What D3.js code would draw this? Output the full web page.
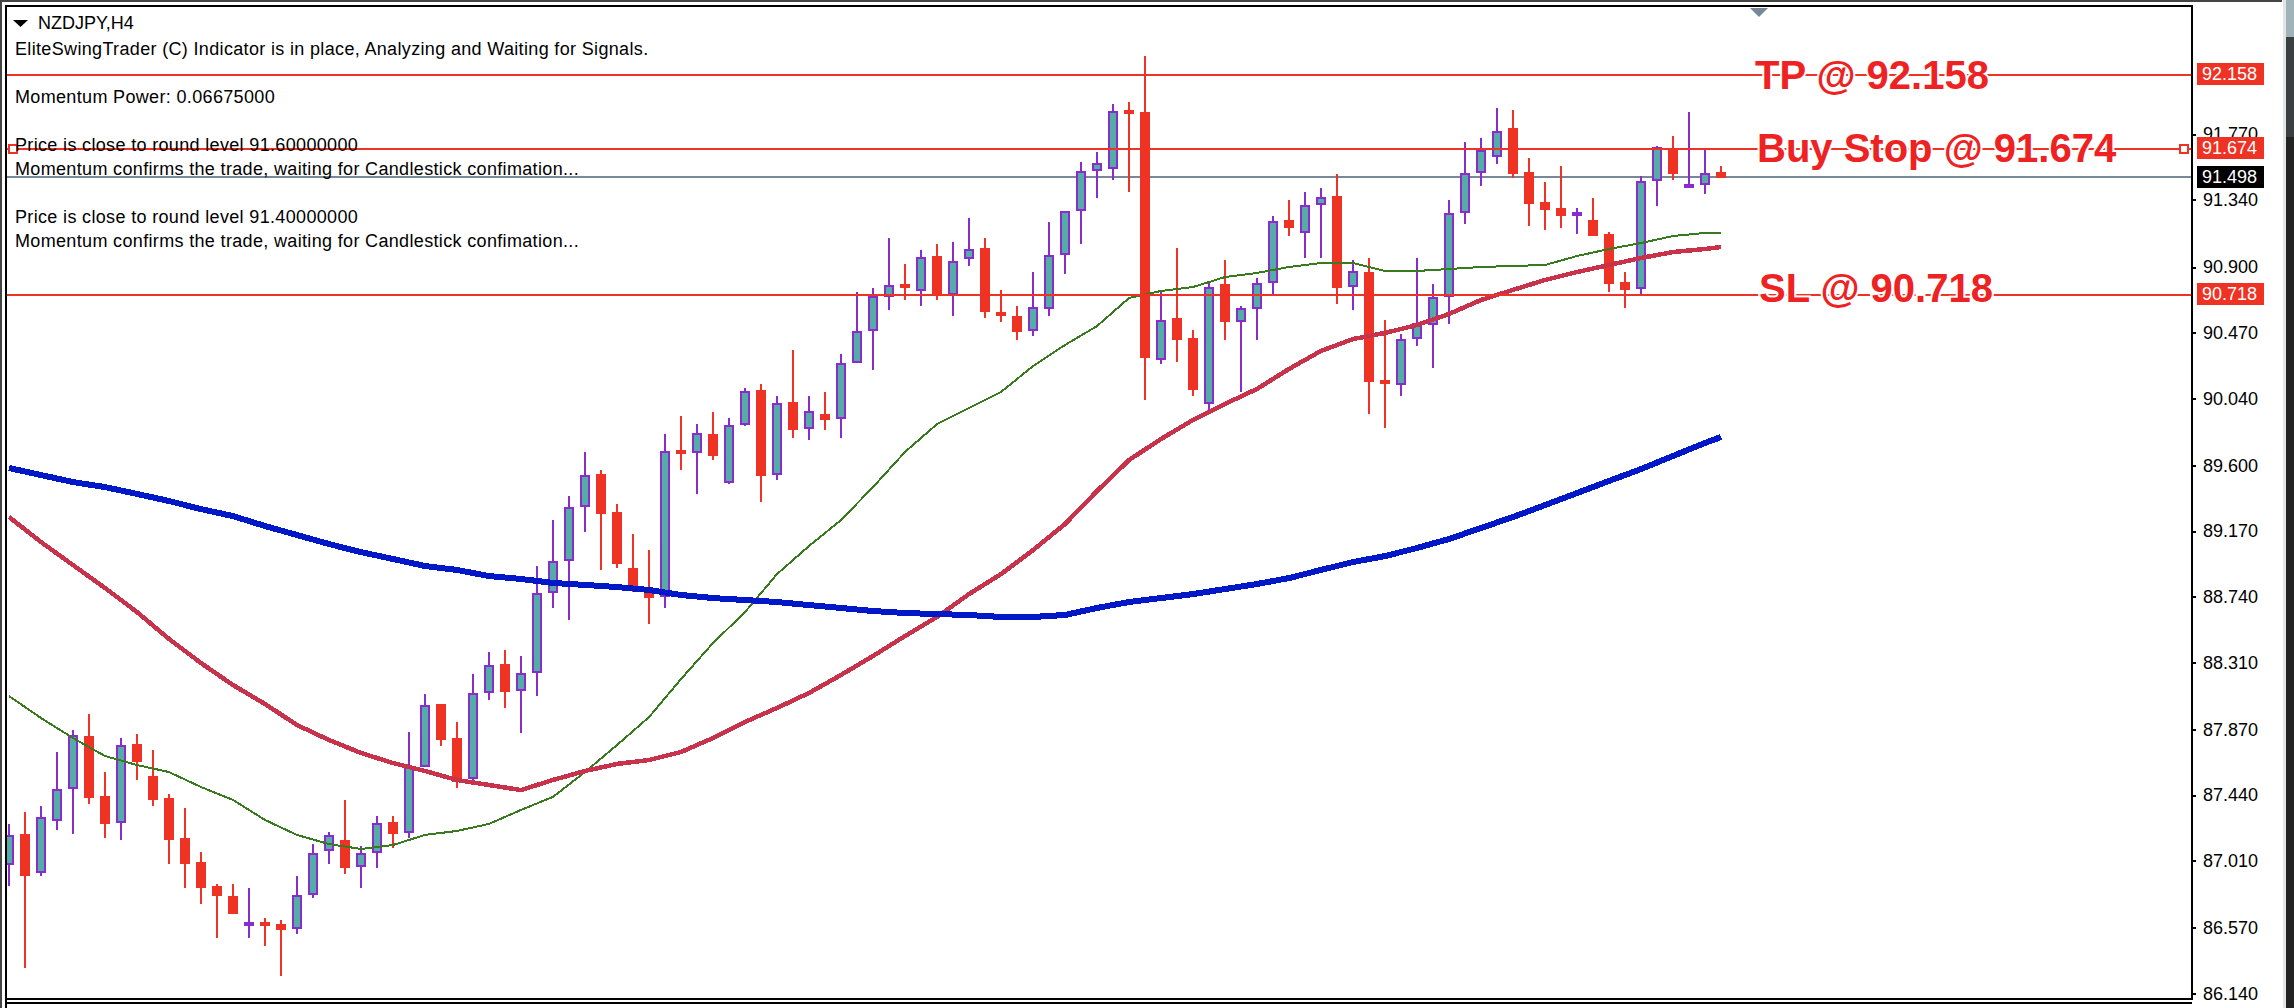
<!DOCTYPE html>
<html>
<head>
<meta charset="utf-8">
<script src="https://cdn.jsdelivr.net/npm/d3@7"></script>
<style>
html, body { margin: 0; padding: 0; background: #fff; overflow: hidden; }
svg { display: block; }
text { font-family: "Liberation Sans", Arial, sans-serif; }
</style>
</head>
<body>
<script>
var opens = [86.982,87.185,86.930,87.270,87.480,87.827,87.434,87.257,87.775,87.565,87.421,87.159,87.002,86.845,86.779,86.583,86.609,86.596,86.563,86.786,87.074,87.146,86.969,87.061,87.264,87.192,87.624,88.037,87.814,87.546,88.109,88.299,88.122,88.240,88.764,88.974,89.327,89.544,89.295,88.928,88.784,88.738,89.701,89.681,89.806,89.485,89.865,90.094,89.537,90.016,89.838,89.937,89.904,90.271,90.481,90.703,90.788,90.743,90.972,90.717,90.953,91.025,90.605,90.579,90.481,90.625,90.979,91.267,91.529,91.542,91.929,91.916,90.291,90.566,90.435,90.003,90.788,90.540,90.625,90.795,91.208,91.123,91.306,91.365,90.769,90.867,90.160,90.127,90.428,90.520,90.703,91.254,91.516,91.621,91.811,91.522,91.326,91.287,91.234,91.208,91.116,90.802,90.756,91.463,91.673,91.417,91.437,91.522]
var highs = [87.251,87.329,87.369,87.722,87.866,87.971,87.591,87.814,87.840,87.735,87.447,87.356,87.067,86.858,86.858,86.831,86.635,86.622,86.910,87.119,87.198,87.408,87.106,87.303,87.303,87.853,88.102,88.037,87.919,88.234,88.377,88.390,88.351,88.941,89.242,89.400,89.688,89.570,89.347,89.150,89.045,89.806,89.924,89.871,89.950,89.911,90.107,90.133,90.055,90.356,90.055,90.081,90.330,90.736,90.762,91.090,90.920,91.011,91.051,91.064,91.221,91.090,90.750,90.644,90.867,91.195,91.267,91.588,91.653,91.968,91.981,92.283,90.736,91.025,90.487,90.802,90.946,90.644,90.828,91.234,91.339,91.391,91.417,91.509,90.946,90.959,90.553,90.461,90.959,90.788,91.339,91.719,91.745,91.942,91.929,91.614,91.457,91.562,91.287,91.352,91.129,90.867,91.496,91.693,91.758,91.916,91.667,91.562]
var lows = [86.845,86.307,86.910,87.211,87.185,87.382,87.159,87.146,87.539,87.369,86.988,86.831,86.727,86.504,86.661,86.504,86.452,86.255,86.530,86.766,86.988,86.923,86.831,86.962,87.093,87.159,87.624,87.762,87.486,87.539,88.063,88.011,87.847,88.089,88.666,88.587,89.163,88.915,88.928,88.771,88.561,88.666,89.570,89.413,89.635,89.478,89.858,89.360,89.504,89.780,89.766,89.832,89.780,90.271,90.225,90.618,90.684,90.644,90.684,90.579,90.907,90.566,90.540,90.422,90.448,90.579,90.854,91.051,91.352,91.470,91.391,90.029,90.264,90.278,90.055,89.963,90.422,90.081,90.422,90.723,91.103,90.959,90.959,90.657,90.618,89.937,89.845,90.055,90.382,90.238,90.526,91.182,91.431,91.575,91.483,91.169,91.142,91.156,91.116,91.103,90.736,90.631,90.723,91.300,91.470,91.417,91.378,91.483]
var closes = [87.179,86.910,87.297,87.480,87.834,87.421,87.251,87.768,87.657,87.408,87.146,86.988,86.831,86.779,86.661,86.609,86.583,86.556,86.786,87.061,87.179,86.962,87.061,87.257,87.185,87.624,88.030,87.801,87.526,88.109,88.292,88.116,88.240,88.764,88.974,89.327,89.537,89.282,88.954,88.784,88.731,89.695,89.675,89.812,89.661,89.865,90.087,89.531,90.009,89.832,89.956,89.898,90.271,90.481,90.710,90.782,90.762,90.966,90.717,90.939,91.018,90.605,90.579,90.474,90.638,90.979,91.267,91.529,91.581,91.922,91.903,90.304,90.553,90.422,90.094,90.769,90.540,90.631,90.795,91.201,91.156,91.306,91.358,90.762,90.874,90.147,90.133,90.428,90.533,90.703,91.254,91.516,91.667,91.791,91.509,91.313,91.274,91.234,91.260,91.103,90.788,90.750,91.463,91.686,91.509,91.444,91.516,91.483]

// moving averages, read every second bar plus the last one
var maBars = d3.range(0, 107, 2).concat([107])
var maGreen = [88.089,87.945,87.814,87.696,87.637,87.591,87.493,87.408,87.277,87.179,87.119,87.087,87.113,87.179,87.205,87.251,87.343,87.428,87.591,87.768,87.951,88.200,88.436,88.639,88.888,89.072,89.242,89.458,89.688,89.871,89.976,90.081,90.251,90.389,90.513,90.697,90.743,90.769,90.834,90.861,90.900,90.926,90.926,90.874,90.874,90.887,90.900,90.907,90.913,90.972,91.018,91.057,91.103,91.123,91.123]
var maRed = [89.262,89.098,88.947,88.797,88.639,88.463,88.305,88.161,88.037,87.899,87.801,87.716,87.650,87.598,87.539,87.506,87.473,87.539,87.598,87.644,87.670,87.722,87.814,87.919,88.011,88.109,88.227,88.351,88.482,88.607,88.757,88.888,89.045,89.216,89.432,89.635,89.773,89.898,90.003,90.101,90.232,90.350,90.428,90.468,90.520,90.592,90.684,90.750,90.815,90.867,90.913,90.959,90.998,91.018,91.031]
var maBlue = [89.583,89.537,89.491,89.458,89.413,89.367,89.314,89.268,89.203,89.144,89.085,89.032,88.987,88.941,88.915,88.875,88.856,88.830,88.817,88.803,88.784,88.751,88.731,88.718,88.705,88.685,88.666,88.646,88.633,88.626,88.620,88.607,88.607,88.620,88.666,88.705,88.731,88.757,88.790,88.823,88.862,88.915,88.967,89.006,89.059,89.118,89.190,89.262,89.340,89.419,89.498,89.576,89.662,89.747,89.786]

var tickValues = [86.14,86.57,87.01,87.44,87.87,88.31,88.74,89.17,89.60,90.04,90.47,90.90,91.34,91.77]
var levels = [92.158, 91.674, 90.718]
var levelNames = ["TP @ 92.158", "Buy Stop @ 91.674", "SL @ 90.718"]
var lastPrice = 91.498
var title = "NZDJPY,H4"
var comments = [
  "EliteSwingTrader (C) Indicator is in place, Analyzing and Waiting for Signals.",
  "",
  "Momentum Power: 0.06675000",
  "",
  "Price is close to round level 91.60000000",
  "Momentum confirms the trade, waiting for Candlestick confimation...",
  "",
  "Price is close to round level 91.40000000",
  "Momentum confirms the trade, waiting for Candlestick confimation..."
]

var red = "#ee3224", teal = "#54aca6", purple = "#8a2bce", slate = "#778899"
var width = 2294, height = 1008
var left = 7, top_ = 7, right = 2191, bottom = 999

var svg = d3.select("body").append("svg").attr("width", width).attr("height", height)

var x = d3.scaleLinear().domain([0, 107]).range([9, 1721])
var y = d3.scaleLinear().domain([92.158, 86.14]).range([75, 993.5])

svg.append("clipPath").attr("id", "plot").append("rect")
    .attr("x", left).attr("y", top_).attr("width", right - left).attr("height", bottom - top_)

// window chrome
svg.append("rect").attr("x", 0).attr("y", 0).attr("width", 2282).attr("height", 2).attr("fill", "#444")
svg.append("rect").attr("x", 0).attr("y", 0).attr("width", 2).attr("height", height).attr("fill", "#444")
svg.append("rect").attr("x", 2283).attr("y", 0).attr("width", 3).attr("height", height).attr("fill", "#e4e4e4")
svg.append("rect").attr("x", 2286).attr("y", 0).attr("width", 8).attr("height", height).attr("fill", "#222")
svg.append("rect").attr("x", 2286).attr("y", 0).attr("width", 8).attr("height", 37).attr("fill", "#9fb3b8")
svg.append("rect").attr("x", 2286).attr("y", 37).attr("width", 8).attr("height", 100).attr("fill", "#3a3f42")

var plot = svg.append("g").attr("clip-path", "url(#plot)").attr("shape-rendering", "crispEdges")

plot.append("line").attr("x1", left).attr("x2", right)
    .attr("y1", Math.round(y(lastPrice)) + 1).attr("y2", Math.round(y(lastPrice)) + 1)
    .attr("stroke", slate).attr("stroke-width", 2)

var candles = plot.selectAll("g.candle")
    .data(d3.range(opens.length))
    .enter().append("g")
    .attr("class", "candle")

candles.append("rect")
    .attr("x", function(i) { return x(i) - 1 })
    .attr("width", 2)
    .attr("y", function(i) { return y(highs[i]) })
    .attr("height", function(i) { return y(lows[i]) - y(highs[i]) })
    .attr("fill", function(i) { return closes[i] > opens[i] ? purple : red })

candles.append("rect")
    .attr("x", function(i) { return closes[i] > opens[i] ? x(i) - 4 : x(i) - 5 })
    .attr("width", function(i) { return closes[i] > opens[i] ? 8 : 10 })
    .attr("y", function(i) { return closes[i] > opens[i] ? y(closes[i]) + 1 : y(opens[i]) })
    .attr("height", function(i) {
      var h = Math.abs(y(closes[i]) - y(opens[i]))
      return closes[i] > opens[i] ? Math.max(h - 2, 1) : Math.max(h, 2)
    })
    .attr("fill", function(i) { return closes[i] > opens[i] ? teal : red })
    .attr("stroke", function(i) { return closes[i] > opens[i] ? purple : "none" })
    .attr("stroke-width", 2)

var maLine = function(values) {
  return d3.line()
      .x(function(d, k) { return x(maBars[k]) })
      .y(function(d) { return y(d) })(values)
}

plot.append("path").attr("d", maLine(maGreen)).attr("fill", "none").attr("stroke", "#3a7a1f").attr("stroke-width", 2)
plot.append("path").attr("d", maLine(maRed)).attr("fill", "none").attr("stroke", "#c8324a").attr("stroke-width", 4.5)
plot.append("path").attr("d", maLine(maBlue)).attr("fill", "none").attr("stroke", "#0018c8").attr("stroke-width", 6)

plot.selectAll("line.level")
    .data(levels)
    .enter().append("line")
    .attr("class", "level")
    .attr("x1", left).attr("x2", right)
    .attr("y1", function(d) { return Math.round(y(d)) })
    .attr("y2", function(d) { return Math.round(y(d)) })
    .attr("stroke", red).attr("stroke-width", 2)

// order anchors on the buy stop line
svg.selectAll("rect.anchor")
    .data([9, 2180])
    .enter().append("rect")
    .attr("class", "anchor")
    .attr("x", function(d) { return d }).attr("y", Math.round(y(levels[1])) - 4)
    .attr("width", 8).attr("height", 8)
    .attr("fill", "#fff").attr("stroke", red).attr("stroke-width", 1.5)
    .attr("shape-rendering", "crispEdges")

// frame
svg.append("rect").attr("x", left - 1).attr("y", top_ - 1).attr("width", right - left + 2).attr("height", bottom - top_ + 1)
    .attr("fill", "none").attr("stroke", "#000").attr("stroke-width", 2).attr("shape-rendering", "crispEdges")
svg.append("line").attr("x1", left - 1).attr("x2", right + 1).attr("y1", 1003).attr("y2", 1003)
    .attr("stroke", "#000").attr("stroke-width", 2).attr("shape-rendering", "crispEdges")
svg.append("line").attr("x1", left - 1).attr("x2", left - 1).attr("y1", 1000).attr("y2", height)
    .attr("stroke", "#000").attr("stroke-width", 2).attr("shape-rendering", "crispEdges")
svg.append("path").attr("d", "M1750,8L1768,8L1759,17Z").attr("fill", slate)

// price axis
var axis = d3.axisRight(y)
    .tickValues(tickValues)
    .tickSize(4)
    .tickPadding(7)
    .tickFormat(d3.format(".3f"))

var axisG = svg.append("g")
    .attr("transform", "translate(" + (right + 1) + ",0)")
    .call(axis)
axisG.select(".domain").remove()
axisG.selectAll("line").attr("stroke", "#000").attr("stroke-width", 2).attr("shape-rendering", "crispEdges")
axisG.selectAll("text").attr("font-size", 18).attr("font-family", "Liberation Sans").attr("fill", "#000")

// level tags
var tags = levels.map(function(d) { return {v: d, fill: red, line: Math.round(y(d)) - 1} })
tags.push({v: lastPrice, fill: "#000", line: Math.round(y(lastPrice)) + 1})

var tag = svg.selectAll("g.tag").data(tags).enter().append("g").attr("class", "tag")
tag.append("rect")
    .attr("x", 2197).attr("width", 67).attr("height", 22)
    .attr("y", function(d) { return d.line - 11 })
    .attr("fill", function(d) { return d.fill })
tag.append("text")
    .attr("x", 2202)
    .attr("y", function(d) { return d.line + 6 })
    .attr("font-size", 18)
    .attr("fill", "#fff")
    .text(function(d) { return d.v.toFixed(3) })

// big labels sit on their lines with a white edge round the glyphs
var nameLeft = [1755, 1757, 1759]
var nameDrop = [14, 13, 7]
svg.selectAll("text.name")
    .data(levelNames)
    .enter().append("text")
    .attr("class", "name")
    .attr("x", function(d, i) { return nameLeft[i] })
    .attr("y", function(d, i) { return Math.round(y(levels[i])) + nameDrop[i] })
    .attr("font-size", 40)
    .attr("font-weight", "bold")
    .attr("fill", "#ee2222")
    .attr("stroke", "#fff")
    .attr("stroke-width", 4)
    .attr("paint-order", "stroke")
    .text(function(d) { return d })

// top left comment block
svg.append("path").attr("d", "M13,20L28,20L20.5,27Z").attr("fill", "#000")
svg.append("text").attr("x", 38).attr("y", 29).attr("font-size", 18).attr("fill", "#000").text(title)

svg.selectAll("text.comment")
    .data(comments)
    .enter().append("text")
    .attr("class", "comment")
    .attr("x", 15)
    .attr("y", function(d, i) { return 55 + i * 24 })
    .attr("font-size", 18)
    .attr("letter-spacing", 0.34)
    .attr("fill", "#000")
    .text(function(d) { return d })
</script>
</body>
</html>
